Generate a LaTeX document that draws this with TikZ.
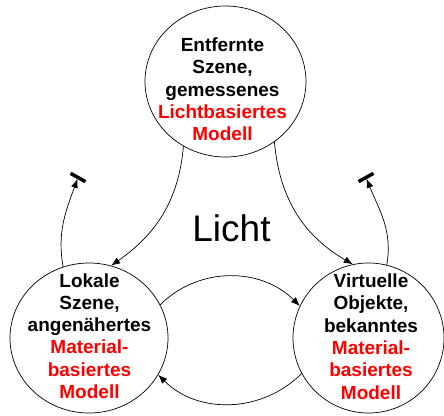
\documentclass[tikz,border=0pt]{standalone}
\usepackage{fontspec}
\setmainfont{Liberation Sans}
\usetikzlibrary{arrows.meta, shapes.geometric, positioning}

\begin{document}
\begin{tikzpicture}[
            x=1pt, y=1pt,
            blase/.style={draw, ellipse, inner sep=0pt, line width=0.7pt},
            beschr/.style={align=center, font=\fontsize{19}{22.3}\selectfont\bfseries},
            pfeil/.style={-{Latex[length=9pt, width=7pt]}, line width=0.7pt},
            sperre/.style={fill=black, minimum width=17pt, minimum height=3.5pt, inner sep=0pt}
        ]
        \useasboundingbox (0,0) rectangle (444,-415);

        % die drei Szenen
        \node[blase, minimum width=161pt, minimum height=151pt] (szene) at (225.5,-81.5) {};
        \node[blase, minimum width=158pt, minimum height=150pt] (lokal) at (89,-338) {};
        \node[blase, minimum width=151pt, minimum height=150pt] (virtuell) at (368.5,-338) {};

        \node[beschr] (szeneText) at (222.5,-89.5) {Entfernte\\Szene,\\gemessenes\\
            \textcolor{red}{Lichtbasiertes}\\\textcolor{red}{Modell}};
        \node[beschr] (lokalText) at (89.5,-336) {Lokale\\Szene,\\angenähertes\\
            \textcolor{red}{Material-}\\\textcolor{red}{basiertes}\\\textcolor{red}{Modell}};
        \node[beschr] (virtuellText) at (371,-336.5) {Virtuelle\\Objekte,\\bekanntes\\
            \textcolor{red}{Material-}\\\textcolor{red}{basiertes}\\\textcolor{red}{Modell}};

        \node[font=\fontsize{37}{44}\selectfont] (licht) at (231.5,-228.5) {Licht};

        % Sperren
        \coordinate (stopL) at (78,-177.5);
        \coordinate (stopR) at (366,-177.5);
        \node[sperre, rotate=-29] at (stopL) {};
        \node[sperre, rotate=29] at (stopR) {};

        \draw[pfeil] (szene.237) to[out=-95, in=35] (lokal.73);
        \draw[pfeil] (szene.309) to[out=-85, in=150] (virtuell.102);
        \draw[pfeil, shorten >=1.5pt] (lokal.110) to[out=100, in=-110] (stopL);
        \draw[pfeil, shorten >=1.5pt] (virtuell.76) to[out=80, in=-68] (stopR);
        \draw[pfeil] (lokal.25) to[out=45, in=135] (virtuell.155);
        \draw[pfeil] (virtuell.208) to[out=-135, in=-45] (lokal.332);
    \end{tikzpicture}
\end{document}
